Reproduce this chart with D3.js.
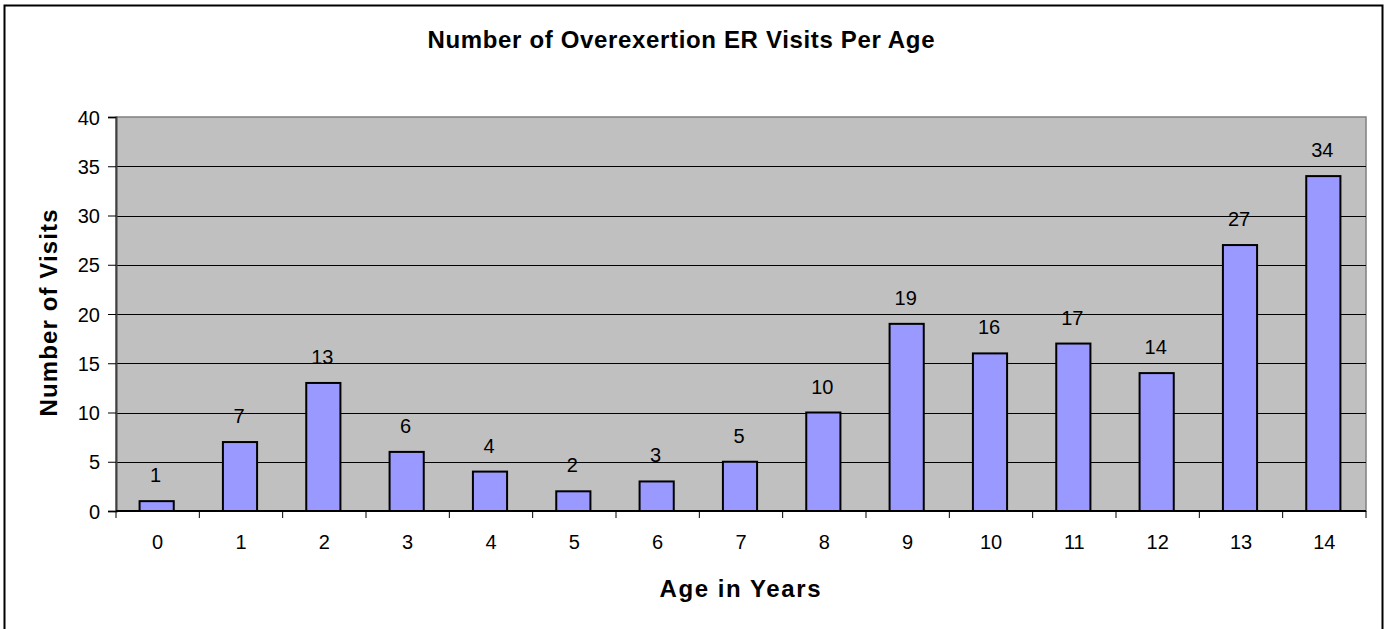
<!DOCTYPE html>
<html>
<head>
<meta charset="utf-8">
<script src="https://cdn.jsdelivr.net/npm/d3@7"></script>
<style>
  body { margin: 0; background: #fff; }
  text { font-family: "Liberation Sans", Arial, sans-serif; fill: #000; }
</style>
</head>
<body>
<svg id="chart" width="1386" height="629"></svg>
<script>
// data
var ages = ["0","1","2","3","4","5","6","7","8","9","10","11","12","13","14"];
var visits = [1, 7, 13, 6, 4, 2, 3, 5, 10, 19, 16, 17, 14, 27, 34];
var yTicks = [0, 5, 10, 15, 20, 25, 30, 35, 40];

var titleText = "Number of Overexertion ER Visits Per Age";
var xLabel = "Age in Years";
var yLabel = "Number of Visits";

// plot area
var margin = {top: 117, right: 20, bottom: 118, left: 116};
var width = 1366 - margin.left;
var height = 511 - margin.top;

var svg = d3.select("#chart");

// outer chart border
svg.append("rect")
  .attr("x", 4.5).attr("y", 5.5)
  .attr("width", 1378).attr("height", 640)
  .style("fill", "#fff")
  .style("stroke", "#000")
  .style("stroke-width", 2);

var g = svg.append("g")
  .attr("transform", "translate(" + margin.left + "," + margin.top + ")");

var x = d3.scaleBand().domain(ages).range([0, width]).padding(0);
var y = d3.scaleLinear().domain([0, 40]).range([height, 0]);

// plot background
g.append("rect")
  .attr("width", width).attr("height", height)
  .style("fill", "#c0c0c0")
  .style("stroke", "#808080")
  .style("stroke-width", 1.5);

// gridlines
g.selectAll(".grid")
  .data(yTicks.filter(d => d > 0 && d < 40))
  .enter().append("line")
  .attr("x1", 0).attr("x2", width)
  .attr("y1", d => Math.round(y(d)) + 0.5)
  .attr("y2", d => Math.round(y(d)) + 0.5)
  .style("stroke", "#000")
  .style("stroke-width", 1);

// bars
var barW = x.bandwidth() * 0.41;
g.selectAll(".bar")
  .data(visits)
  .enter().append("rect")
  .attr("class", "bar")
  .attr("x", (d, i) => x(ages[i]) + (x.bandwidth() - barW) / 2 - 1)
  .attr("y", d => y(d))
  .attr("width", barW)
  .attr("height", d => height - y(d))
  .style("fill", "#9999ff")
  .style("stroke", "#000")
  .style("stroke-width", 2);

// value labels
g.selectAll(".val")
  .data(visits)
  .enter().append("text")
  .attr("x", (d, i) => x(ages[i]) + x.bandwidth() / 2 - 2)
  .attr("y", d => y(d) - 19)
  .style("text-anchor", "middle")
  .style("font-size", "20px")
  .text(d => d);

// y axis
var yAxis = d3.axisLeft(y).tickValues(yTicks).tickSize(8).tickPadding(8);
var yG = g.append("g").call(yAxis);
yG.select(".domain").style("stroke", "#404040").style("stroke-width", 2);
yG.selectAll(".tick line").style("stroke", "#000");
yG.selectAll("text")
  .style("font-size", "20px")
  .style("font-family", "'Liberation Sans', Arial, sans-serif")
  .attr("dy", "0.35em");

// x axis: ticks on category boundaries
var xG = g.append("g").attr("transform", "translate(0," + height + ")");
xG.append("line")
  .attr("x1", 0).attr("x2", width)
  .style("stroke", "#000").style("stroke-width", 2);
xG.selectAll(".xt")
  .data(ages.concat(["end"]))
  .enter().append("line")
  .attr("x1", (d, i) => i < ages.length ? x(d) : width)
  .attr("x2", (d, i) => i < ages.length ? x(d) : width)
  .attr("y1", 0).attr("y2", 7)
  .style("stroke", "#000").style("stroke-width", 1);
xG.selectAll(".xl")
  .data(ages)
  .enter().append("text")
  .attr("x", d => x(d) + x.bandwidth() / 2)
  .attr("y", 38)
  .style("text-anchor", "middle")
  .style("font-size", "20px")
  .text(d => d);

// title and axis labels
svg.append("text")
  .attr("x", 681).attr("y", 48)
  .style("text-anchor", "middle")
  .style("font-size", "24px")
  .style("font-weight", "bold")
  .attr("textLength", 507)
  .attr("lengthAdjust", "spacing")
  .text(titleText);

svg.append("text")
  .attr("x", 740).attr("y", 597)
  .style("text-anchor", "middle")
  .style("font-size", "24px")
  .style("font-weight", "bold")
  .attr("textLength", 161)
  .attr("lengthAdjust", "spacing")
  .text(xLabel);

svg.append("text")
  .attr("transform", "translate(57,313) rotate(-90)")
  .style("text-anchor", "middle")
  .style("font-size", "24px")
  .style("font-weight", "bold")
  .attr("textLength", 207)
  .attr("lengthAdjust", "spacing")
  .text(yLabel);
</script>
</body>
</html>
